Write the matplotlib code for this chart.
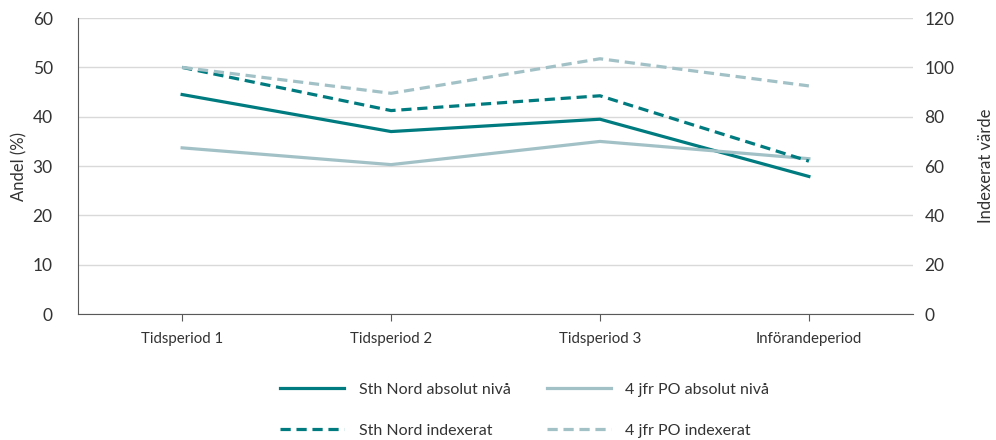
import matplotlib.pyplot as plt

plt.rcParams['font.family'] = ['Lato', 'DejaVu Sans']

# perioder och värden
perioder = ['Tidsperiod 1', 'Tidsperiod 2', 'Tidsperiod 3', 'Införandeperiod']
sth_nord_abs = [44.5, 37.0, 39.5, 27.9]
jfr_po_abs = [33.7, 30.3, 35.0, 31.5]
sth_nord_idx = [100, 82.5, 88.5, 62]
jfr_po_idx = [100, 89.5, 103.5, 92.5]

mork = '#007B7F'
ljus = '#A2C1C7'

fig = plt.figure(figsize=(9.96, 4.4), dpi=100)
ax = fig.add_axes([0.078, 0.286, 0.839, 0.673])
ax2 = ax.twinx()

x = range(len(perioder))
l1, = ax.plot(x, sth_nord_abs, color=mork, lw=2.3, label='Sth Nord absolut nivå')
l2, = ax.plot(x, jfr_po_abs, color=ljus, lw=2.3, label='4 jfr PO absolut nivå')
l3, = ax2.plot(x, sth_nord_idx, color=mork, lw=2.3, dashes=(3.2, 1.8), label='Sth Nord indexerat')
l4, = ax2.plot(x, jfr_po_idx, color=ljus, lw=2.3, dashes=(3.2, 1.8), label='4 jfr PO indexerat')

ax.set_xlim(-0.5, 3.5)
ax.set_ylim(0, 60)
ax2.set_ylim(0, 120)
ax.set_yticks(range(0, 61, 10))
ax2.set_yticks(range(0, 121, 20))
ax.set_xticks(list(x))
ax.set_xticklabels(perioder, fontsize=10.8)

ax.grid(axis='y', color='#D9D9D9', lw=1)
ax.set_axisbelow(True)
for s in ['top', 'right']:
    ax.spines[s].set_visible(False)
for s in ['top', 'right', 'left', 'bottom']:
    ax2.spines[s].set_visible(False)
ax.spines['left'].set_color('#595959')
ax.spines['bottom'].set_color('#595959')

ax.tick_params(axis='y', length=0, labelsize=12.5, pad=18, colors='#333333')
ax2.tick_params(axis='y', length=0, labelsize=12.5, pad=8, colors='#333333')
ax.tick_params(axis='x', length=5, color='#595959', pad=8, labelcolor='#333333')

ax.set_ylabel('Andel (%)', fontsize=12, color='#333333', labelpad=4)
ax2.set_ylabel('Indexerat värde', fontsize=12, color='#333333', labelpad=17)

fig.legend(handles=[l1, l3, l2, l4], ncol=2, loc='lower center',
           bbox_to_anchor=(0.527, -0.028), frameon=False, fontsize=11.5,
           handlelength=4.0, labelspacing=1.7, columnspacing=2.3,
           handletextpad=0.9, labelcolor='#333333')

fig.savefig('out.png', dpi=100)
